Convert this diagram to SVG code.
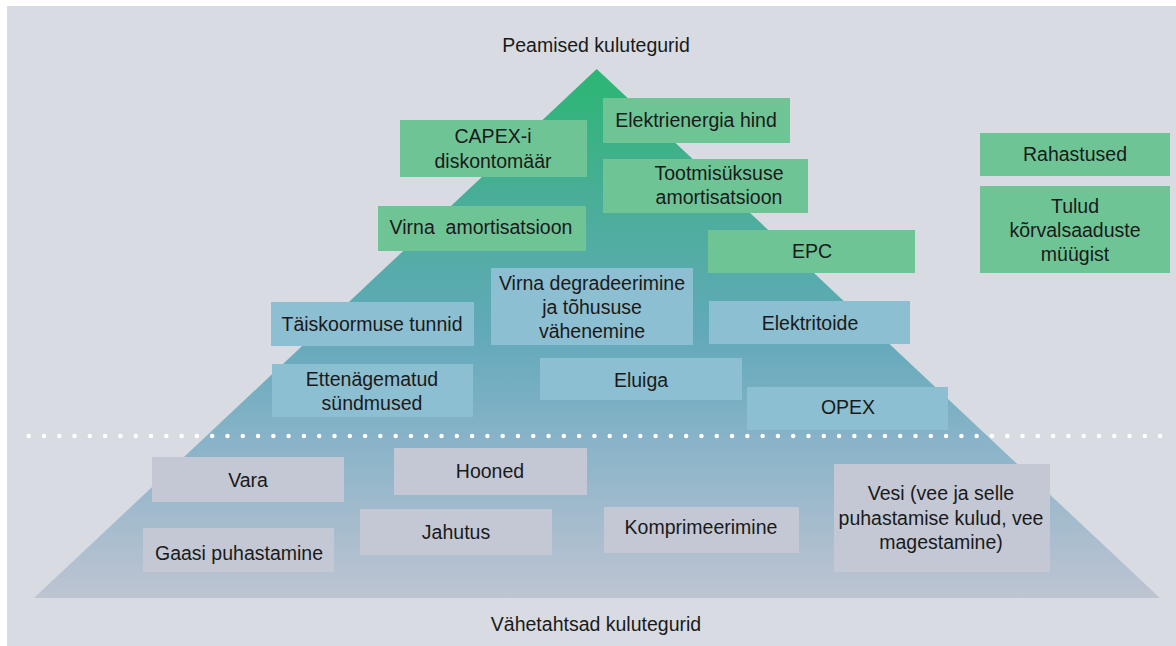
<svg xmlns="http://www.w3.org/2000/svg" width="1176" height="646" viewBox="0 0 1176 646">
  <defs>
    <linearGradient id="pyramidFill" x1="0" y1="69" x2="0" y2="598" gradientUnits="userSpaceOnUse">
      <stop offset="0" stop-color="#2BB673"/>
      <stop offset="0.25" stop-color="#4AAE98"/>
      <stop offset="0.5" stop-color="#62A9BA"/>
      <stop offset="0.7" stop-color="#88B3C8"/>
      <stop offset="1" stop-color="#BEC4D2"/>
    </linearGradient>
    <style>
      .lbl { font-family: "Liberation Sans", Arial, sans-serif; font-size: 19.5px; fill: #1A1A1A; text-anchor: middle; }
      .green { fill: #6FC496; }
      .blue { fill: #8CBFD1; }
      .gray { fill: #C3C8D4; }
    </style>
  </defs>

  <!-- canvas -->
  <rect x="0" y="0" width="1176" height="646" fill="#FFFFFF"/>
  <rect x="7" y="6" width="1169" height="640" fill="#D8DBE2"/>

  <!-- pyramid -->
  <polygon points="596.7,69 1160,598 34,598" fill="url(#pyramidFill)"/>

  <!-- divider between main and minor drivers -->
  <line x1="28.7" y1="436" x2="1161" y2="436" stroke="#FFFFFF" stroke-width="4.5" stroke-linecap="round" stroke-dasharray="0 15.29"/>

  <!-- titles -->
  <text class="lbl" x="596" y="51.5">Peamised kulutegurid</text>
  <text class="lbl" x="596" y="630.5">Vähetahtsad kulutegurid</text>

  <!-- main drivers -->
  <g id="capex">
    <rect class="green" x="400" y="120" width="187" height="57"/>
    <text class="lbl" x="493" y="143">CAPEX-i</text>
    <text class="lbl" x="493" y="167.5">diskontomäär</text>
  </g>
  <g id="elektrienergia">
    <rect class="green" x="603" y="98" width="187" height="45"/>
    <text class="lbl" x="696" y="126.5">Elektrienergia hind</text>
  </g>
  <g id="tootmisuksus">
    <rect class="green" x="603" y="159" width="205" height="54"/>
    <text class="lbl" x="719" y="180">Tootmisüksuse</text>
    <text class="lbl" x="719" y="204">amortisatsioon</text>
  </g>
  <g id="virna-amort">
    <rect class="green" x="378" y="206" width="208" height="45"/>
    <text class="lbl" x="481" y="234" style="white-space:pre">Virna  amortisatsioon</text>
  </g>
  <g id="epc">
    <rect class="green" x="708" y="230" width="207" height="43"/>
    <text class="lbl" x="812" y="257.5">EPC</text>
  </g>
  <g id="rahastused">
    <rect class="green" x="980" y="133" width="190" height="43"/>
    <text class="lbl" x="1075" y="160.5">Rahastused</text>
  </g>
  <g id="tulud">
    <rect class="green" x="980" y="186" width="190" height="87"/>
    <text class="lbl" x="1075" y="213">Tulud</text>
    <text class="lbl" x="1075" y="237">kõrvalsaaduste</text>
    <text class="lbl" x="1075" y="261">müügist</text>
  </g>

  <g id="taiskoormus">
    <rect class="blue" x="271" y="302" width="203" height="44"/>
    <text class="lbl" x="372" y="330.5">Täiskoormuse tunnid</text>
  </g>
  <g id="degradeerimine">
    <rect class="blue" x="491" y="268" width="202" height="77"/>
    <text class="lbl" x="592" y="289.5">Virna degradeerimine</text>
    <text class="lbl" x="592" y="313.5">ja tõhususe</text>
    <text class="lbl" x="592" y="337.5">vähenemine</text>
  </g>
  <g id="elektritoide">
    <rect class="blue" x="709" y="301" width="201" height="43"/>
    <text class="lbl" x="810" y="329.5">Elektritoide</text>
  </g>
  <g id="ettenagematud">
    <rect class="blue" x="272" y="364" width="201" height="53"/>
    <text class="lbl" x="372" y="385.5">Ettenägematud</text>
    <text class="lbl" x="372" y="409.5">sündmused</text>
  </g>
  <g id="eluiga">
    <rect class="blue" x="540" y="358" width="202" height="42"/>
    <text class="lbl" x="641" y="386.5">Eluiga</text>
  </g>
  <g id="opex">
    <rect class="blue" x="747" y="387" width="201" height="43"/>
    <text class="lbl" x="848" y="413.5">OPEX</text>
  </g>

  <!-- minor drivers -->
  <g id="vara">
    <rect class="gray" x="152" y="457" width="192" height="45"/>
    <text class="lbl" x="248" y="486.5">Vara</text>
  </g>
  <g id="hooned">
    <rect class="gray" x="394" y="448" width="193" height="47"/>
    <text class="lbl" x="490" y="477.5">Hooned</text>
  </g>
  <g id="gaasi">
    <rect class="gray" x="143" y="528" width="191" height="44"/>
    <text class="lbl" x="239" y="559.5">Gaasi puhastamine</text>
  </g>
  <g id="jahutus">
    <rect class="gray" x="360" y="509" width="192" height="46"/>
    <text class="lbl" x="456" y="538.5">Jahutus</text>
  </g>
  <g id="komprimeerimine">
    <rect class="gray" x="604" y="507" width="195" height="46"/>
    <text class="lbl" x="701" y="533.5">Komprimeerimine</text>
  </g>
  <g id="vesi">
    <rect class="gray" x="834" y="464" width="216" height="108"/>
    <text class="lbl" x="941" y="499.5">Vesi (vee ja selle</text>
    <text class="lbl" x="941" y="524.5">puhastamise kulud, vee</text>
    <text class="lbl" x="941" y="548.5">magestamine)</text>
  </g>
</svg>
